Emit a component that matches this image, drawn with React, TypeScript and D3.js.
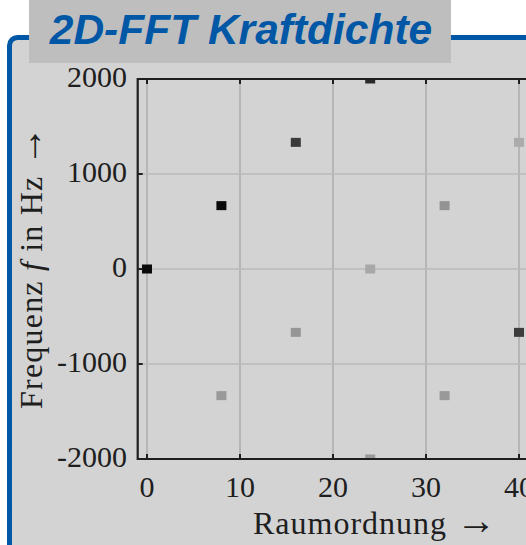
import React, { useRef, useEffect } from "react";
import { select, scaleLinear } from "d3";

// spectral peaks: spatial order, frequency (Hz), grey level
const orders = [0, 8, 16, 24, 24, 24, 32, 40, 8, 16, 32, 40];
const freqs = [0, 667, 1333, 2000, 0, -2000, 667, 1333, -1333, -667, -1333, -667];
const shades = [
  "#0a0a0a", "#0a0a0a", "#3a3a3a", "#2a2a2a", "#a8a8a8", "#9a9a9a",
  "#939393", "#ababab", "#999999", "#969696", "#999999", "#3c3c3c",
];

const xTicks = [0, 10, 20, 30, 40];
const yTicks = [-2000, -1000, 0, 1000, 2000];

const W = 526;
const H = 545;

const App = () => {
  const svgRef = useRef<SVGSVGElement>(null);

  useEffect(() => {
    const svg = select(svgRef.current);
    svg.selectAll("*").remove();

    // panel + title box
    svg
      .append("rect")
      .attr("x", 9.5)
      .attr("y", 37.5)
      .attr("width", 700)
      .attr("height", 700)
      .attr("rx", 8)
      .attr("fill", "#d3d3d3")
      .attr("stroke", "#0057a6")
      .attr("stroke-width", 5);

    svg
      .append("rect")
      .attr("x", 29)
      .attr("y", 0)
      .attr("width", 422)
      .attr("height", 63)
      .attr("fill", "#bebebe");

    svg
      .append("text")
      .attr("x", 241)
      .attr("y", 44)
      .attr("text-anchor", "middle")
      .style("font-family", "'Liberation Sans', Arial, sans-serif")
      .style("font-weight", "bold")
      .style("font-style", "italic")
      .style("font-size", "42.5px")
      .attr("fill", "#0057a6")
      .text("2D-FFT Kraftdichte");

    // scales
    const x = scaleLinear().domain([-1, 50]).range([137.7, 612]);
    const y = scaleLinear().domain([-2000, 2000]).range([459, 79]);
    const [x0, x1] = x.range();
    const [y0, y1] = y.range();

    const g = svg.append("g");

    // grid
    g.selectAll(".vgrid")
      .data(xTicks)
      .enter()
      .append("line")
      .attr("x1", (d) => x(d))
      .attr("x2", (d) => x(d))
      .attr("y1", y1)
      .attr("y2", y0)
      .attr("stroke", "#b6b6b6")
      .attr("stroke-width", 2);

    g.selectAll(".hgrid")
      .data(yTicks)
      .enter()
      .append("line")
      .attr("x1", x0)
      .attr("x2", x1)
      .attr("y1", (d) => y(d))
      .attr("y2", (d) => y(d))
      .attr("stroke", "#bababa")
      .attr("stroke-width", 1.6);

    // clip for markers
    svg
      .append("defs")
      .append("clipPath")
      .attr("id", "plotclip")
      .append("rect")
      .attr("x", x0)
      .attr("y", y1)
      .attr("width", x1 - x0)
      .attr("height", y0 - y1);

    const pts = orders.map((o, i) => ({ o, f: freqs[i], c: shades[i] }));
    g.append("g")
      .attr("clip-path", "url(#plotclip)")
      .selectAll("rect")
      .data(pts)
      .enter()
      .append("rect")
      .attr("x", (d) => x(d.o) - 5)
      .attr("y", (d) => y(d.f) - 4.5)
      .attr("width", 10)
      .attr("height", 9)
      .attr("fill", (d) => d.c);

    // frame
    const ink = "#1e1e1e";
    g.append("path")
      .attr("d", `M${x1},${y1}H${x0}V${y0}H${x1}`)
      .attr("fill", "none")
      .attr("stroke", ink)
      .attr("stroke-width", 2.2);

    // ticks (inward)
    xTicks.forEach((t) => {
      g.append("line")
        .attr("x1", x(t)).attr("x2", x(t))
        .attr("y1", y1).attr("y2", y1 + 5)
        .attr("stroke", ink).attr("stroke-width", 2);
      g.append("line")
        .attr("x1", x(t)).attr("x2", x(t))
        .attr("y1", y0).attr("y2", y0 - 5)
        .attr("stroke", ink).attr("stroke-width", 2);
    });
    yTicks.forEach((t) => {
      g.append("line")
        .attr("x1", x0).attr("x2", x0 + 5)
        .attr("y1", y(t)).attr("y2", y(t))
        .attr("stroke", ink).attr("stroke-width", 2);
    });

    const serif = "'Liberation Serif', 'Times New Roman', serif";

    // tick labels
    g.selectAll(".xlab")
      .data(xTicks)
      .enter()
      .append("text")
      .attr("x", (d) => x(d))
      .attr("y", 497)
      .attr("text-anchor", "middle")
      .style("font-family", serif)
      .style("font-size", "30px")
      .attr("fill", ink)
      .text((d) => d);

    g.selectAll(".ylab")
      .data(yTicks)
      .enter()
      .append("text")
      .attr("x", 127)
      .attr("y", (d) => y(d) + 8)
      .attr("text-anchor", "end")
      .style("font-family", serif)
      .style("font-size", "30px")
      .attr("fill", ink)
      .text((d) => d);

    // axis titles
    const xt = svg
      .append("text")
      .attr("x", 375)
      .attr("y", 534)
      .attr("text-anchor", "middle")
      .style("font-family", serif)
      .style("font-size", "32px")
      .style("letter-spacing", "1px")
      .attr("fill", ink);
    xt.append("tspan").text("Raumordnung ");
    xt.append("tspan").style("font-size", "40px").text("\u2192");

    const yt = svg
      .append("text")
      .attr("transform", `translate(42,${(y0 + y1) / 2 - 2}) rotate(-90)`)
      .attr("text-anchor", "middle")
      .style("font-family", serif)
      .style("font-size", "32px")
      .style("letter-spacing", "1.2px")
      .attr("fill", ink);
    yt.append("tspan").text("Frequenz ");
    yt.append("tspan").style("font-style", "italic").text("f");
    yt.append("tspan").text(" in Hz ");
    yt.append("tspan").style("font-size", "40px").text("\u2192");
  }, []);

  return (
    <svg
      ref={svgRef}
      width={W}
      height={H}
      style={{ position: "absolute", left: 0, top: 0, background: "#fff" }}
    />
  );
};

export default App;
